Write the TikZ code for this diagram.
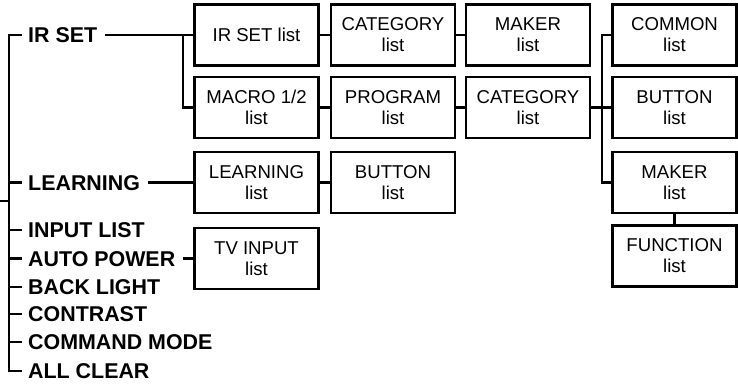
\documentclass[tikz,border=0pt]{standalone}
\usepackage{fontspec}
\setmainfont{Liberation Sans}
\begin{document}
\begin{tikzpicture}[x=1pt,y=-1pt,
  ln/.style={line width=2.2pt, line join=miter},
  lbl/.style={font=\fontsize{21.4}{21}\selectfont\bfseries, inner sep=0pt, text height=15pt, text depth=0pt, anchor=west},
  box/.style={draw, line width=2.2pt, minimum width=124pt, minimum height=61pt, inner sep=0pt, align=center, font=\fontsize{18.6}{21}\selectfont}]
\useasboundingbox (0,0) rectangle (738,383);
% left labels
\node[lbl] (irset) at (28,35) {IR SET};
\node[lbl] (learn) at (28,182.5) {LEARNING};
\node[lbl] (input) at (28,230) {INPUT LIST};
\node[lbl] (auto) at (28,258.5) {AUTO POWER};
\node[lbl] (back) at (28,287) {BACK LIGHT};
\node[lbl] (contr) at (28,314) {CONTRAST};
\node[lbl] (cmd) at (28,342) {COMMAND MODE};
\node[lbl] (clear) at (28,371) {ALL CLEAR};
% boxes
\node[box] (irl) at (256.5,35) {IR SET list};
\node[box] (cat1) at (393,35) {CATEGORY\\list};
\node[box] (mak1) at (528,35) {MAKER\\list};
\node[box] (com) at (674.5,35) {COMMON\\list};
\node[box] (mac) at (256.5,107.5) {MACRO 1/2\\list};
\node[box] (prog) at (393,107.5) {PROGRAM\\list};
\node[box] (cat2) at (528,107.5) {CATEGORY\\list};
\node[box] (but2) at (674.5,107.5) {BUTTON\\list};
\node[box] (lrn) at (256.5,182.5) {LEARNING\\list};
\node[box] (but1) at (393,182.5) {BUTTON\\list};
\node[box] (mak2) at (674.5,182.5) {MAKER\\list};
\node[box] (tv) at (256.5,258.5) {TV INPUT\\list};
\node[box] (func) at (674.5,256) {FUNCTION\\list};
% left tree
\coordinate (stub) at (0,201);
\coordinate (trunk) at (9,201);
\draw[ln] (stub) -- (trunk);
\draw[ln] ([xshift=-6pt]irset.west) -| (9,371) -- ([xshift=-6pt]clear.west);
\foreach \n in {learn,input,auto,back,contr,cmd}
  \draw[ln] (9,0 |- \n.west) -- ([xshift=-6pt]\n.west);
% IR SET branch
\coordinate (irsplit) at (183,35);
\draw[ln] ([xshift=8pt]irset.east) -- (irl.west);
\draw[ln] (irsplit) |- (mac.west);
\draw[ln] ([xshift=8pt]learn.east) -- (lrn.west);
\draw[ln] ([xshift=8pt]auto.east) -- (tv.west);
% box chains
\draw[ln] (irl) -- (cat1);
\draw[ln] (cat1) -- (mak1);
\draw[ln] (mac) -- (prog);
\draw[ln] (prog) -- (cat2);
\draw[ln] (lrn) -- (but1);
\draw[ln] (cat2) -- (but2);
\coordinate (csplit) at (602,107.5);
\draw[ln] (com.west) -| (csplit) |- (mak2.west);
\draw[ln] (mak2) -- (func);
\end{tikzpicture}
\end{document}
